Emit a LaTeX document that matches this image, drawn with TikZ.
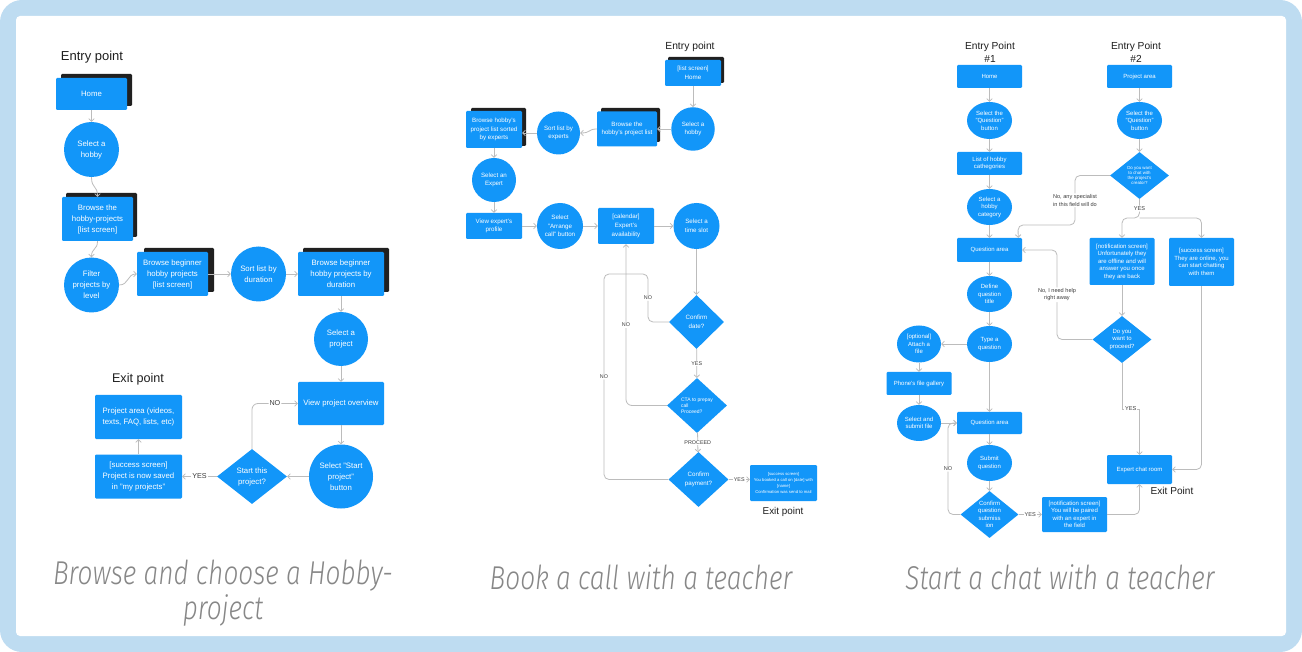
\documentclass[tikz,border=0pt]{standalone}
\usepackage{fontspec}
\setmainfont{Liberation Sans}
\newfontfamily\ttlfont[FakeStretch=0.795, ItalicFont={Fira Sans Light Italic}]{Fira Sans Light}
\usetikzlibrary{arrows.meta,shapes.geometric}
\definecolor{nb}{RGB}{18,150,249}
\definecolor{shd}{RGB}{32,32,32}
\definecolor{lnc}{RGB}{188,188,188}
\definecolor{framec}{RGB}{190,220,241}
\definecolor{ttlc}{RGB}{135,135,135}
\definecolor{hdc}{RGB}{30,30,30}
\definecolor{lblc}{RGB}{60,60,60}
\tikzset{
  box/.style={rectangle, fill=nb, text=white, align=center, inner sep=0pt, rounded corners=1.2pt},
  circ/.style={circle, fill=nb, text=white, align=center, inner sep=0pt},
  ell/.style={ellipse, fill=nb, text=white, align=center, inner sep=0pt},
  dia/.style={diamond, fill=nb, text=white, align=center, inner sep=0pt},
  shadowbox/.style={fill=shd, rounded corners=1.2pt},
  arr/.style={draw=lnc, line width=0.8pt, -{Straight Barb[length=2.6pt,width=5.5pt]}},
  plainln/.style={draw=lnc, line width=0.8pt},
  lbl/.style={fill=white, text=lblc, inner sep=1pt, align=center},
  head/.style={text=hdc, align=center, inner sep=0pt},
  fL/.style={font=\fontsize{7.8}{11}\selectfont},
  fM/.style={font=\fontsize{6.2}{8.7}\selectfont},
  fR/.style={font=\fontsize{6}{7.5}\selectfont},
  fTiny/.style={font=\fontsize{4.4}{4.8}\selectfont},
  fCta/.style={font=\fontsize{5}{6}\selectfont},
  fSucc/.style={font=\fontsize{4.2}{6}\selectfont},
  lL/.style={lbl, font=\fontsize{7.2}{8}\selectfont},
  lM/.style={lbl, font=\fontsize{5.4}{6}\selectfont},
  lR/.style={lbl, font=\fontsize{5.6}{7.6}\selectfont},
  ttl/.style={text=ttlc, align=center, inner sep=0pt, font=\ttlfont\itshape\fontsize{33}{35}\selectfont},
}
\begin{document}
\begin{tikzpicture}[x=1pt,y=-1pt]
% frame
\fill[framec, rounded corners=22pt] (0,0) rectangle (1302,652);
\fill[white, rounded corners=4pt] (16,16) rectangle (1286,636);

% ================= LEFT PANEL =================
\node[head, font=\fontsize{13}{15}\selectfont] (entL) at (92,57) {Entry point};
\fill[shadowbox] (61,74) rectangle (132,106);
\node[box, fL, minimum width=71pt, minimum height=32pt] (home1) at (91.5,94) {Home};
\node[circ, fL, minimum size=55pt] (hob1) at (91.5,149.5) {Select a\\hobby};
\fill[shadowbox] (66,193) rectangle (137,237);
\node[box, fL, minimum width=71pt, minimum height=44pt] (brw1) at (97.5,219) {Browse the\\hobby-projects\\{}[list screen]};
\node[circ, fL, minimum size=55pt] (filt) at (91.5,285) {Filter\\projects by\\level};
\fill[shadowbox] (144,248) rectangle (214,292);
\node[box, fL, minimum width=71pt, minimum height=44pt] (bb1) at (172.5,274) {Browse beginner\\hobby projects\\{}[list screen]};
\node[circ, fL, minimum size=55pt] (sort1) at (258.5,274) {Sort list by\\duration};
\fill[shadowbox] (303,248) rectangle (389,292);
\node[box, fL, minimum width=86pt, minimum height=44pt] (bb2) at (341,274) {Browse beginner\\hobby projects by\\duration};
\node[circ, fL, minimum size=54pt] (selp) at (341,339) {Select a\\project};
\node[box, fL, minimum width=86pt, minimum height=43pt] (vpo) at (341,403.5) {View project overview};
\node[circ, fL, minimum size=64pt] (ssp) at (341,476.5) {Select "Start\\project"\\button};
\node[dia, fL, minimum width=70pt, minimum height=55pt, aspect=1.27] (stp) at (252,476.5) {Start this\\project?};
\node[box, fL, minimum width=87pt, minimum height=44pt] (succ1) at (138.5,476.5) {[success screen]\\Project is now saved\\in "my projects"};
\node[box, fL, minimum width=87pt, minimum height=44pt] (parea) at (138.5,417) {Project area (videos,\\texts, FAQ, lists, etc)};
\node[head, font=\fontsize{12.6}{15}\selectfont] (exL) at (138,379) {Exit point};

\draw[arr] (home1) -- (hob1);
\draw[arr] (hob1.south) .. controls (91.5,189) and (97.5,185) .. (brw1.north);
\draw[arr] (brw1.south) .. controls (97.5,250) and (91.5,248) .. (filt.north);
\draw[arr] (filt.east) .. controls (129,285) and (127,274) .. (bb1.west);
\draw[arr] (bb1) -- (sort1);
\draw[arr] (sort1) -- (bb2);
\draw[arr] (bb2) -- (selp);
\draw[arr] (selp) -- (vpo);
\draw[arr] (vpo) -- (ssp);
\draw[arr] (ssp) -- (stp);
\draw[arr, rounded corners=6pt] (stp.north) |- node[lL, pos=0.75] {NO} (vpo.west);
\draw[arr] (stp) -- node[lL] {YES} (succ1);
\draw[arr] (succ1) -- (parea);

\node[ttl] (tL) at (223,593) {Browse and choose a Hobby-\\project};

% ================= MIDDLE PANEL =================
\node[head, font=\fontsize{10.3}{12}\selectfont] (entM) at (690,47) {Entry point};
\fill[shadowbox] (668,57) rectangle (724,83);
\node[box, fM, minimum width=56pt, minimum height=26pt] (home2) at (693,73) {[list screen]\\Home};
\node[circ, fM, minimum size=43.5pt] (hob2) at (693,129) {Select a\\hobby};
\fill[shadowbox] (601,108) rectangle (660,142);
\node[box, fM, minimum width=60pt, minimum height=35pt] (bhp) at (627,129) {Browse the\\hobby's project list};
\node[circ, fM, minimum size=43pt] (sortx) at (558.5,133) {Sort list by\\experts};
\fill[shadowbox] (471,108) rectangle (526,146);
\node[box, fM, minimum width=56pt, minimum height=37pt] (bsort) at (494,129.5) {Browse hobby's\\project list sorted\\by experts};
\node[circ, fM, minimum size=44pt] (sexp) at (494,180) {Select an\\Expert};
\node[box, fM, minimum width=56pt, minimum height=26pt] (vep) at (494,226) {View expert's\\profile};
\node[circ, fM, minimum size=46pt] (sarr) at (560,226) {Select\\"Arrange\\call" button};
\node[box, fM, minimum width=56pt, minimum height=36pt] (cal) at (626,226) {[calendar]\\Expert's\\availability};
\node[circ, fM, minimum size=46pt] (slot) at (696.5,226) {Select a\\time slot};
\node[dia, fM, minimum width=55pt, minimum height=54pt, aspect=1.02] (cdate) at (696.5,322) {Confirm\\date?};
\node[dia, fCta, align=left, minimum width=60pt, minimum height=55pt, aspect=1.09] (cta) at (697,405.5) {CTA to prepay\\call\\Proceed?};
\node[dia, fM, minimum width=60pt, minimum height=55pt, aspect=1.09] (cpay) at (698.5,479.5) {Confirm\\payment?};
\node[box, fSucc, minimum width=67pt, minimum height=36pt] (succ2) at (783.5,483) {[success screen]\\You booked a call on [date] with\\{}[name]\\Confirmation was send to mail};
\node[head, font=\fontsize{9.9}{12}\selectfont] (exM) at (783,512) {Exit point};

\draw[arr] (home2) -- (hob2);
\draw[arr] (hob2) -- (bhp);
\draw[arr] (bhp.west) .. controls (588,129) and (591,133) .. (sortx.east);
\draw[arr] (sortx.west) -- (sortx.west -| bsort.east);
\draw[arr] (bsort) -- (sexp);
\draw[arr] (sexp) -- (vep);
\draw[arr] (vep) -- (sarr);
\draw[arr] (sarr) -- (cal);
\draw[arr] (cal) -- (slot);
\draw[arr] (slot) -- (cdate);
\draw[arr] (cdate) -- node[lM] {YES} (cta);
\draw[arr] (cta) -- node[lM] {PROCEED} (cpay);
\draw[arr] (cpay.east) -- node[lM] {YES} (cpay.east -| succ2.west);
\draw[arr, rounded corners=6pt] (cta.west) -| node[lM, pos=0.75] {NO} (cal.south);
\draw[plainln, rounded corners=5pt] (cdate.west) -| node[lM, pos=0.75] {NO} (648,274) -- (626,274);
\draw[plainln, rounded corners=5pt] (cpay.west) -| node[lM, pos=0.75] {NO} (604,274) -- (626,274);

\node[ttl] (tM) at (641,577) {Book a call with a teacher};

% ================= RIGHT PANEL =================
\node[head, font=\fontsize{10.2}{13}\selectfont] (ent1) at (990,52.5) {Entry Point\\\#1};
\node[head, font=\fontsize{10.2}{13}\selectfont] (ent2) at (1136,52.5) {Entry Point\\\#2};
\node[box, fR, minimum width=65pt, minimum height=23pt] (home3) at (989.5,76.5) {Home};
\node[ell, fR, minimum width=45pt, minimum height=37pt] (sq1) at (989.5,120.5) {Select the\\"Question"\\button};
\node[box, fR, minimum width=65pt, minimum height=23pt] (lhc) at (989.5,163.5) {List of hobby\\cathegories};
\node[ell, fR, minimum width=45pt, minimum height=36pt] (shc) at (989.5,207) {Select a\\hobby\\category};
\node[box, fR, minimum width=65pt, minimum height=24pt] (qa1) at (989.5,250) {Question area};
\node[ell, fR, minimum width=45pt, minimum height=36pt] (dqt) at (989.5,294) {Define\\question\\title};
\node[ell, fR, minimum width=45pt, minimum height=36pt] (taq) at (989.5,344) {Type a\\question};
\node[ell, fR, minimum width=44pt, minimum height=37pt] (opt) at (919,344) {[optional]\\Attach a\\file};
\node[box, fR, minimum width=65pt, minimum height=23pt] (pfg) at (919,383.5) {Phone's file gallery};
\node[ell, fR, minimum width=44pt, minimum height=36pt] (ssf) at (919,423) {Select and\\submit file};
\node[box, fR, minimum width=65pt, minimum height=22pt] (qa2) at (989.5,423) {Question area};
\node[ell, fR, minimum width=45pt, minimum height=36pt] (subq) at (989.5,463) {Submit\\question};
\node[dia, fR, minimum width=58pt, minimum height=47pt, aspect=1.23] (cqs) at (989.5,514.5) {Confirm\\question\\submiss\\ion};
\node[box, fR, minimum width=65pt, minimum height=35pt] (nf2) at (1074.5,514.5) {[notification screen]\\You will be paired\\with an expert in\\the field};
\node[box, fR, minimum width=65pt, minimum height=29pt] (ecr) at (1139.5,469.5) {Expert chat room};
\node[head, font=\fontsize{10.1}{12}\selectfont] (exR) at (1172,490.5) {Exit Point};

\node[box, fR, minimum width=65pt, minimum height=23pt] (parea2) at (1139.5,76.5) {Project area};
\node[ell, fR, minimum width=45pt, minimum height=37pt] (sq2) at (1139.5,120.5) {Select the\\"Question"\\button};
\node[dia, fTiny, minimum width=59pt, minimum height=47pt, aspect=1.25] (dyw) at (1139.5,175.5) {Do you want\\to chat with\\the project's\\creator?};
\node[box, fR, minimum width=65pt, minimum height=47pt] (nf1) at (1122,261.5) {[notification screen]\\Unfortunately they\\are offline and will\\answer you once\\they are back};
\node[box, fR, minimum width=65pt, minimum height=48pt] (sc3) at (1201.5,262) {[success screen]\\They are online, you\\can start chatting\\with them};
\node[dia, fR, minimum width=59pt, minimum height=47pt, aspect=1.25] (dyp) at (1122,339.5) {Do you\\want to\\proceed?};

\draw[arr] (home3) -- (sq1);
\draw[arr] (sq1) -- (lhc);
\draw[arr] (lhc) -- (shc);
\draw[arr] (shc) -- (qa1);
\draw[arr] (qa1) -- (dqt);
\draw[arr] (dqt) -- (taq);
\draw[arr] (taq) -- (opt);
\draw[arr] (opt) -- (pfg);
\draw[arr] (pfg) -- (ssf);
\draw[arr] (ssf) -- (qa2);
\draw[arr] (taq) -- (qa2);
\draw[arr] (qa2) -- (subq);
\draw[arr] (subq) -- (cqs);
\draw[arr, rounded corners=5pt] (cqs.west) -| node[lR, pos=0.75] {NO} (948,423) -- (qa2.west);
\draw[arr] (cqs) -- node[lR] {YES} (nf2);
\draw[arr, rounded corners=5pt] (nf2.east) -| (ecr.south);

\draw[arr] (parea2) -- (sq2);
\draw[arr] (sq2) -- (dyw);
\draw[arr, rounded corners=5pt] (dyw.west) -| node[lR, pos=0.75] {No, any specialist\\in this field will do} (1075,225) -- (1018,225) -- ([xshift=-4pt]qa1.north east);
\draw[arr, rounded corners=5pt] (dyw.south) -- node[lR] {YES} (1139.5,218) -| (nf1.north);
\draw[arr, rounded corners=5pt] (1139.5,218) -| (sc3.north);
\draw[arr] (nf1) -- (dyp);
\draw[arr, rounded corners=5pt] (dyp.west) -| node[lR, pos=0.75] {No, I need help\\right away} (1057,250) -- (qa1.east);
\draw[arr] (dyp.south) -- (1122,409) -| node[lR, pos=0.25] {YES} (ecr.north);
\draw[arr, rounded corners=5pt] (sc3.south) |- (ecr.east);

\node[ttl] (tR) at (1060,577) {Start a chat with a teacher};
\end{tikzpicture}
\end{document}
